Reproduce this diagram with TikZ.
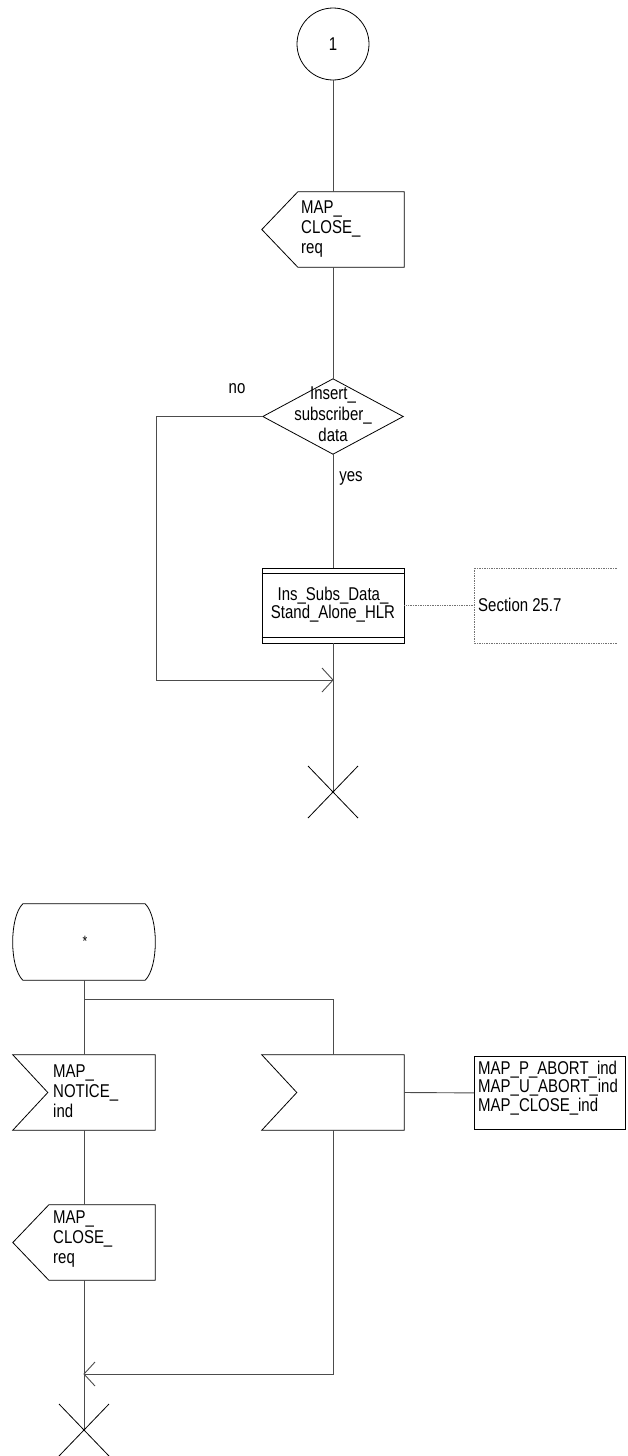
\documentclass[tikz,border=0pt]{standalone}
\usepackage{fontspec}
\setmainfont{Liberation Sans}[FakeStretch=0.81]
\usetikzlibrary{calc}
\begin{document}
\begin{tikzpicture}[x=1pt,y=-1pt,
  shp/.style={draw=black,line width=0.8pt},
  conn/.style={draw=black!70,line width=0.9pt},
  dotconn/.style={draw=black!55,line width=0.7pt,densely dotted},
  lbl/.style={font=\fontsize{18.5}{20}\selectfont,inner sep=0pt,align=left},
  anch/.style={inner sep=0pt,minimum width=142pt,minimum height=75pt}]
\useasboundingbox (0,0) rectangle (627,1456);
% ---------- upper part ----------
\node[shp,circle,minimum size=72pt,inner sep=0pt,font=\fontsize{18.5}{20}\selectfont] (c1) at (333,44) {1};
\node[anch] (o1) at (333,229.5) {};
\draw[shp] ($(o1.north west)+(36,0)$) -- (o1.north east) -- (o1.south east) -- ($(o1.south west)+(36,0)$) -- (o1.west) -- cycle;
\node[lbl,anchor=west] (o1t) at (301,229) {MAP\_\\CLOSE\_\\req};
\node[anch,minimum width=140pt] (d1) at (333,416.5) {};
\draw[shp] (d1.north) -- (d1.east) -- (d1.south) -- (d1.west) -- cycle;
\node[lbl,align=center,font=\fontsize{18.5}{21}\selectfont] (d1t) at (333,414.5) {Insert\_\\subscriber\_\\data};
\node[lbl] (no) at (237,389) {no};
\node[lbl] (yes) at (351,478) {yes};
\node[anch,shp] (p1) at (333,605.5) {};
\draw[shp] ($(p1.north west)+(0,6)$) -- ($(p1.north east)+(0,6)$);
\draw[shp] ($(p1.south west)+(0,-6)$) -- ($(p1.south east)+(0,-6)$);
\node[lbl,align=center,font=\fontsize{18.5}{17}\selectfont] (p1t) at (333,605) {Ins\_Subs\_Data\_\\Stand\_Alone\_HLR};
\coordinate (s1) at (474,605.5);
\draw[dotconn] (617,568) -- (474,568) -- (474,643) -- (617,643);
\node[lbl,anchor=west] (s1t) at (478,605) {Section 25.7};
\draw[dotconn] (p1.east) -- (s1);
\coordinate (x1) at (333,792);
\coordinate (m1) at (333,680);
\coordinate (nl) at (156,680);
\draw[conn] (c1.south) -- (o1.north);
\draw[conn] (o1.south) -- (d1.north);
\draw[conn] (d1.south) -- (p1.north);
\draw[conn] (p1.south) -- (x1);
\draw[conn] (d1.west) -| (nl) -- (m1);
\draw[conn] ($(m1)+(-11,-12)$) -- (m1) -- ($(m1)+(-11,12)$);
\draw[shp] ($(x1)+(-25,-26)$) -- ($(x1)+(25,26)$);
\draw[shp] ($(x1)+(-25,26)$) -- ($(x1)+(25,-26)$);
% ---------- lower part ----------
\node[anch,minimum height=76pt] (st) at (84,942) {};
\draw[shp] ($(st.north west)+(10,0)$) -- ($(st.north east)+(-10,0)$)
  .. controls ($(st.east)+(3.5,-25)$) and ($(st.east)+(3.5,25)$) .. ($(st.south east)+(-10,0)$)
  -- ($(st.south west)+(10,0)$)
  .. controls ($(st.west)+(-3.5,25)$) and ($(st.west)+(-3.5,-25)$) .. cycle;
\node[lbl,font=\fontsize{15}{18}\selectfont] (stt) at (85,941) {*};
\node[anch] (n1) at (84,1092.5) {};
\draw[shp] (n1.north west) -- (n1.north east) -- (n1.south east) -- (n1.south west) -- ($(n1.west)+(35,0)$) -- cycle;
\node[lbl,anchor=west] (n1t) at (53,1091) {MAP\_\\NOTICE\_\\ind};
\node[anch] (n2) at (333,1092.5) {};
\draw[shp] (n2.north west) -- (n2.north east) -- (n2.south east) -- (n2.south west) -- ($(n2.west)+(35,0)$) -- cycle;
\node[shp,inner sep=0pt,minimum width=151pt,minimum height=73pt,anchor=north west] (tb) at (474,1056) {};
\node[lbl,anchor=west,font=\fontsize{18.5}{18.5}\selectfont] (tbt) at (478,1088) {MAP\_P\_ABORT\_ind\\MAP\_U\_ABORT\_ind\\MAP\_CLOSE\_ind};
\node[anch] (o2) at (84,1242.5) {};
\draw[shp] ($(o2.north west)+(36,0)$) -- (o2.north east) -- (o2.south east) -- ($(o2.south west)+(36,0)$) -- (o2.west) -- cycle;
\node[lbl,anchor=west] (o2t) at (53,1239.5) {MAP\_\\CLOSE\_\\req};
\coordinate (br) at (84,999);
\coordinate (m2) at (84,1374);
\coordinate (x2) at (84,1430);
\draw[conn] (st.south) -- (n1.north);
\draw[conn] (br) -| (n2.north);
\draw[conn] (n2.east) -- (tb.west);
\draw[conn] (n1.south) -- (o2.north);
\draw[conn] (o2.south) -- (x2);
\draw[conn] (n2.south) |- (m2);
\draw[conn] ($(m2)+(11,-12)$) -- (m2) -- ($(m2)+(11,12)$);
\draw[shp] ($(x2)+(-25,-26)$) -- ($(x2)+(25,26)$);
\draw[shp] ($(x2)+(-25,26)$) -- ($(x2)+(25,-26)$);
\end{tikzpicture}
\end{document}
